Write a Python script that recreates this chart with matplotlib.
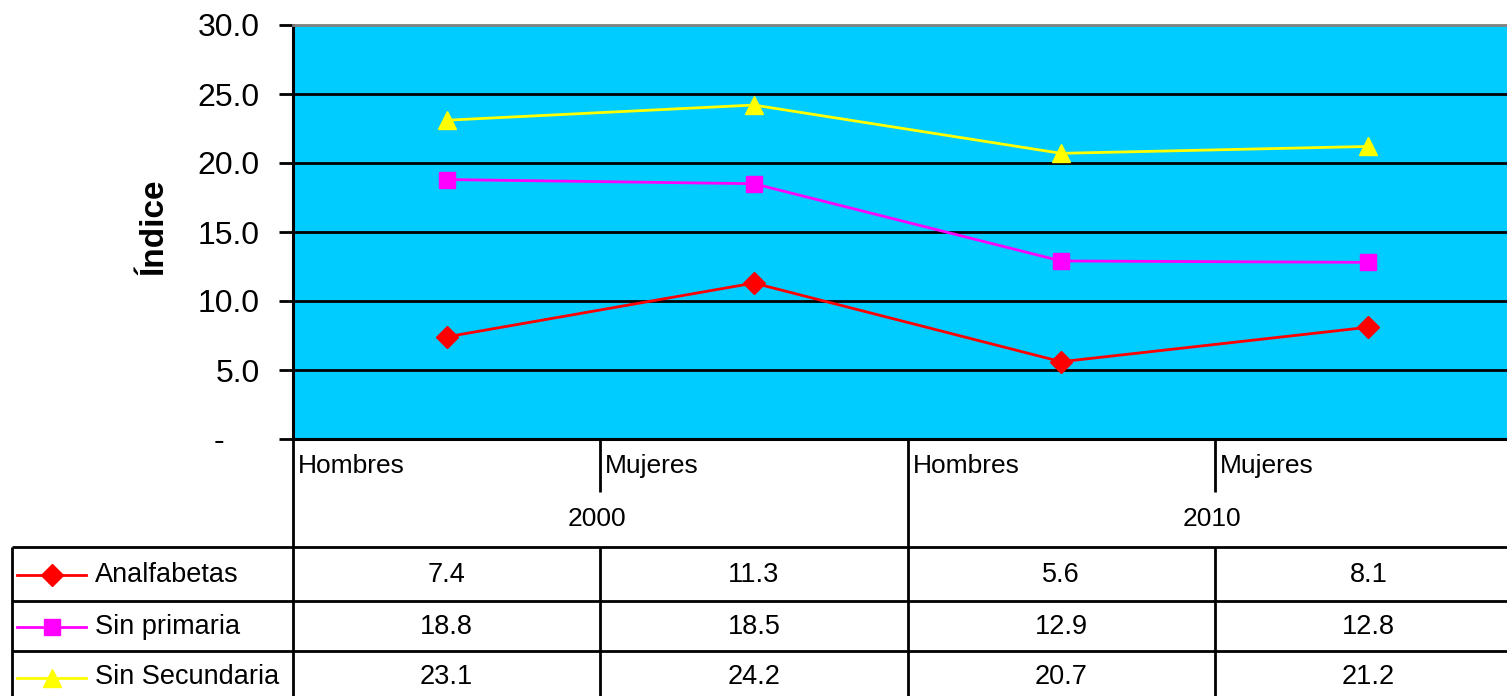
import matplotlib
matplotlib.use("Agg")
import matplotlib.pyplot as plt
from matplotlib.lines import Line2D

plt.rcParams['font.family'] = ['Liberation Sans', 'DejaVu Sans']

# ---- data ----
years = ["2000", "2010"]
sexes = ["Hombres", "Mujeres", "Hombres", "Mujeres"]
series_names = ["Analfabetas", "Sin primaria", "Sin Secundaria"]
analfabetas = [7.4, 11.3, 5.6, 8.1]
sin_primaria = [18.8, 18.5, 12.9, 12.8]
sin_secundaria = [23.1, 24.2, 20.7, 21.2]
y_ticks = [0, 5, 10, 15, 20, 25, 30]
y_tick_labels = ["-    ", "5.0", "10.0", "15.0", "20.0", "25.0", "30.0"]

series_values = [analfabetas, sin_primaria, sin_secundaria]
colors = ["#FF0000", "#FF00FF", "#FFFF00"]
markers = ["D", "s", "^"]
msizes = [11, 11, 12.5]
key_msizes = [11, 11, 13]

W, H = 1507, 696
fig = plt.figure(figsize=(W / 100, H / 100), dpi=100)

# pixel geometry
px_left, px_top, px_bottom = 293, 25, 439
n = len(sexes)
cw = 307.25
px_right = px_left + n * cw

ax = fig.add_axes([px_left / W, (H - px_bottom) / H,
                   (px_right - px_left) / W, (px_bottom - px_top) / H])
ax.set_facecolor("#00CCFF")
ax.set_xlim(-0.5, n - 0.5)
ax.set_ylim(0, 30)
ax.set_yticks(y_ticks)
ax.set_yticklabels(y_tick_labels, fontsize=23)
ax.tick_params(axis='y', length=10, width=2, pad=14, direction='out')
ax.set_xticks([])
for y in y_ticks[1:-1]:
    ax.axhline(y, color='black', lw=2, zorder=1)
ax.spines['left'].set_linewidth(2.2)
ax.spines['bottom'].set_linewidth(2.2)
ax.spines['top'].set_color('#808080')
ax.spines['top'].set_linewidth(2)
ax.spines['right'].set_visible(False)

xs = list(range(n))
for vals, c, m, ms in zip(series_values, colors, markers, msizes):
    ax.plot(xs, vals, color=c, lw=2, marker=m, markersize=ms,
            markerfacecolor=c, markeredgecolor=c, zorder=3, clip_on=False)

# ---- overlay for category axis and data table (pixel coords) ----
ov = fig.add_axes([0, 0, 1, 1])
ov.set_xlim(0, W)
ov.set_ylim(H, 0)
ov.axis('off')
ov.patch.set_alpha(0)

ov.text(154, 227, "Índice", rotation=90, ha='center', va='center',
        fontsize=24, fontweight='bold')

lw = 2
def hl(y, x0, x1):
    ov.plot([x0, x1], [y, y], color='black', lw=lw, solid_capstyle='butt')
def vl(x, y0, y1):
    ov.plot([x, x], [y0, y1], color='black', lw=lw, solid_capstyle='butt')

col_edges = [px_left + i * cw for i in range(n + 1)]
table_left = 12
row_lines = [547, 601, 651, 702]

# category axis
for i in range(n):
    x = col_edges[i]
    if i % 2 == 0:
        vl(x, px_bottom, H + 5)
    else:
        vl(x, px_bottom, 492)
        vl(x, row_lines[0], H + 5)
    ov.text(x + 5, 466, sexes[i], fontsize=19, ha='left', va='center')
for g, yr in enumerate(years):
    ov.text(col_edges[2 * g + 1] - 3, 519, yr, fontsize=19, ha='center', va='center')

# table grid
for y in row_lines:
    hl(y, table_left, W + 5)
vl(table_left, row_lines[0], H + 5)

for r, (name, vals, c, m, ms) in enumerate(zip(series_names, series_values,
                                                colors, markers, key_msizes)):
    yc = (row_lines[r] + row_lines[r + 1]) / 2 + 1
    ov.add_line(Line2D([17, 86], [yc, yc], color=c, lw=2))
    ov.plot([52], [yc], marker=m, color=c, markersize=ms,
            markeredgecolor=c)
    ov.text(95, yc, name, fontsize=19.5, ha='left', va='center')
    for i, v in enumerate(vals):
        xc = (col_edges[i] + col_edges[i + 1]) / 2
        ov.text(xc, yc, f"{v:.1f}", fontsize=19.5, ha='center', va='center')

fig.savefig("out.png", dpi=100)
